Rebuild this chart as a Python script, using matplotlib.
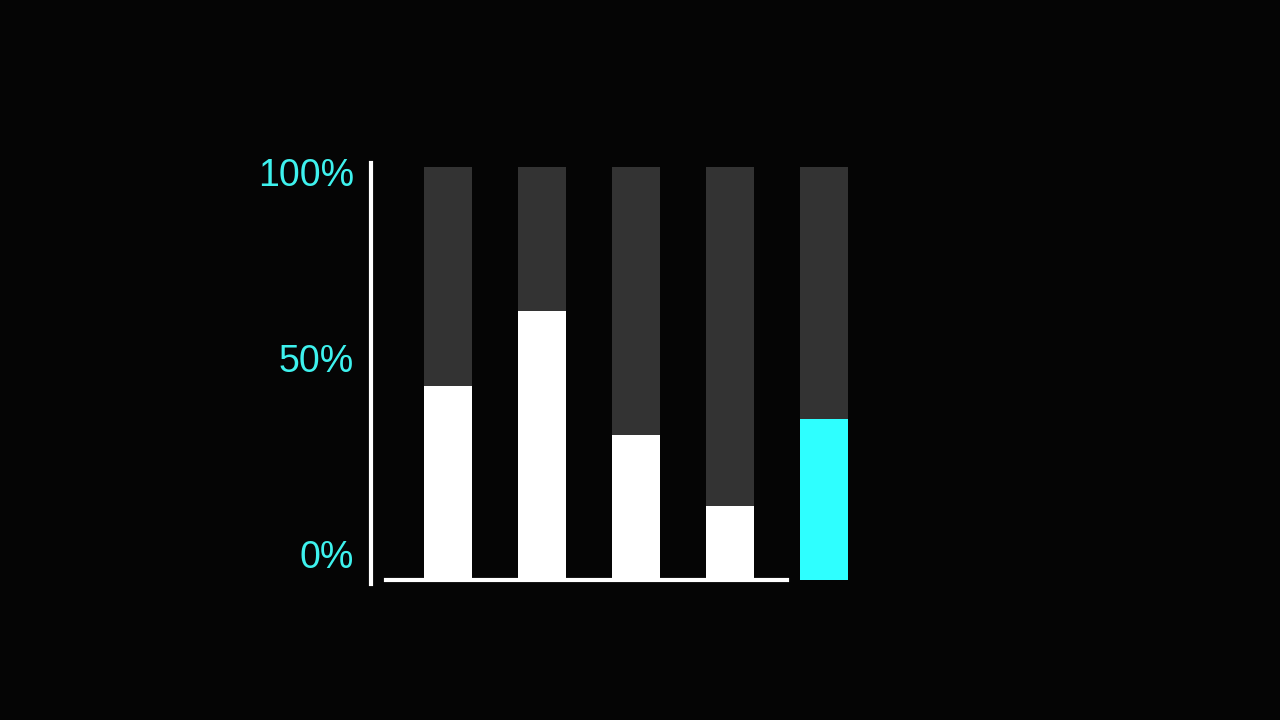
import matplotlib.pyplot as plt
import matplotlib.transforms as mtransforms

# values (percent)
categories = ['A', 'B', 'C', 'D', 'E']
totals = [100, 100, 100, 100, 100]
shares = [47, 65, 35, 18, 39]
highlight = 'E'
tick_values = [0, 50, 100]
tick_labels = ['0%', '50%', '100%']

bg = '#050505'
cyan = '#2effff'
label_cyan = '#3ef2ee'

fig = plt.figure(figsize=(12.8, 7.2), dpi=100, facecolor=bg)
ax = fig.add_axes([0.2898, 0.1944, 0.382, 0.574], facecolor=bg)

x = list(range(len(categories)))
ax.bar(x, totals, width=0.51, color='#333333', zorder=1)
fill_colors = [cyan if c == highlight else 'white' for c in categories]
ax.bar(x, shares, width=0.51, color=fill_colors, zorder=2)

ax.set_xlim(-0.82, 4.38)
ax.set_ylim(0, 100)

for side in ['top', 'right']:
    ax.spines[side].set_visible(False)
for side in ['left', 'bottom']:
    ax.spines[side].set_color('white')
    ax.spines[side].set_linewidth(3)
ax.spines['bottom'].set_bounds(-0.66, 3.6)
ax.spines['left'].set_bounds(-1, 101)

ax.set_xticks([])
ax.set_yticks(tick_values)
ax.set_yticklabels(tick_labels, fontname='Liberation Sans', fontsize=27, color=label_cyan)
ax.tick_params(axis='y', length=0, pad=12)

# small shifts (points) so the labels sit where the tilted reference has them
shifts = {'0%': 18.5, '50%': 11, '100%': -3.5}
for label in ax.get_yticklabels():
    dy = shifts.get(label.get_text(), 0)
    off = mtransforms.ScaledTranslation(0, dy / 72, fig.dpi_scale_trans)
    label.set_transform(label.get_transform() + off)

plt.savefig('out.png', dpi=100, facecolor=bg)
